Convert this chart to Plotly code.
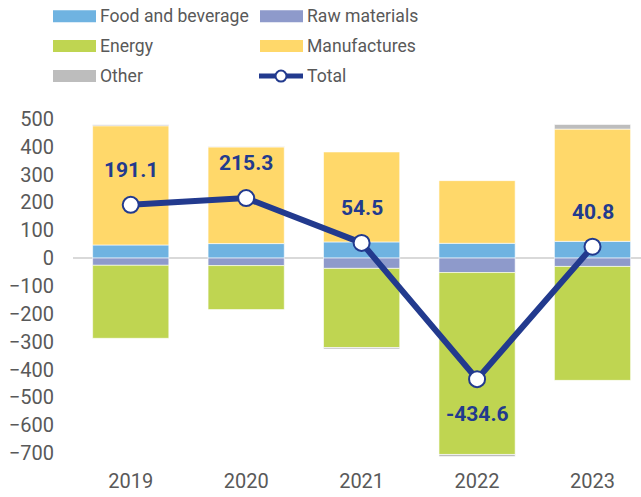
import plotly.graph_objects as go

years = ["2019", "2020", "2021", "2022", "2023"]
food = [47, 52, 58, 53, 60]
raw = [-26, -27, -37, -52, -30]
energy = [-262, -158, -284, -653, -409]
manuf = [428, 347, 323, 225, 403]
other = [4, 1.3, -5.5, -7.6, 16.8]
total = [191.1, 215.3, 54.5, -434.6, 40.8]

names = ["Food and beverage", "Raw materials", "Energy", "Manufactures", "Other"]
colors = ["#6FB3E1", "#8E9ACB", "#BFD551", "#FFD86A", "#BDBDBD"]
series = [food, raw, energy, manuf, other]
NAVY = "#223A8E"
GREY = "#595959"
FONT = "Roboto"

W, H = 641, 497
L, R, T = 73, 0, 116
PH = 351.5
B = H - T - PH
PW = W - L - R

fig = go.Figure()
for n, c, s in zip(names, colors, series):
    fig.add_trace(go.Bar(x=years, y=s, name=n, marker_color=c,
                         marker_line_color="rgba(255,255,255,0.6)", marker_line_width=1,
                         showlegend=False))
fig.add_trace(go.Scatter(x=years, y=total, mode="lines+markers", name="Total",
                         line=dict(color=NAVY, width=6),
                         marker=dict(size=16, color="white", line=dict(color=NAVY, width=2)),
                         showlegend=False))

for i, tv in enumerate(total):
    fig.add_annotation(x=i, y=tv, xref="x", yref="y", text=f"{tv}", showarrow=False,
                       yshift=35 if tv >= 0 else -35,
                       font=dict(family=FONT, size=21, color=NAVY, weight="bold"))

# custom legend
def px2x(px):
    return (px - L) / PW

def py2y(py):
    return (T + PH - py) / PH

leg = [("Food and beverage", colors[0], 53, 16), ("Raw materials", colors[1], 260, 16),
       ("Energy", colors[2], 53, 46), ("Manufactures", colors[3], 260, 46),
       ("Other", colors[4], 53, 76)]
for n, c, x0, yc in leg:
    fig.add_shape(type="rect", xref="paper", yref="paper",
                  x0=px2x(x0), x1=px2x(x0 + 43), y0=py2y(yc - 6), y1=py2y(yc + 6),
                  fillcolor=c, line_width=0)
    fig.add_annotation(xref="paper", yref="paper", x=px2x(x0 + 45), y=py2y(yc),
                       text=n, showarrow=False, xanchor="left", yanchor="middle",
                       font=dict(family=FONT, size=17.6, color=GREY))
fig.add_shape(type="line", xref="paper", yref="paper", x0=px2x(259), x1=px2x(303),
              y0=py2y(76), y1=py2y(76), line=dict(color=NAVY, width=5))
fig.add_shape(type="circle", xref="paper", yref="paper", x0=px2x(275.5), x1=px2x(286.5),
              y0=py2y(81.5), y1=py2y(70.5), fillcolor="white", line=dict(color=NAVY, width=2))
fig.add_annotation(xref="paper", yref="paper", x=px2x(305), y=py2y(76),
                   text="Total", showarrow=False, xanchor="left", yanchor="middle",
                   font=dict(family=FONT, size=17.6, color=GREY))

fig.update_layout(
    width=W, height=H, barmode="relative", bargap=0.34,
    margin=dict(l=L, r=R, t=T, b=B),
    plot_bgcolor="white", paper_bgcolor="white",
    font=dict(family=FONT, size=20, color=GREY),
    xaxis=dict(type="category", range=[-0.5, 4.42], showgrid=False, showline=False, ticks="",
               tickfont=dict(family=FONT, size=20, color=GREY)),
    yaxis=dict(range=[-750, 510], tickvals=list(range(-700, 501, 100)), showgrid=False,
               zeroline=True, zerolinecolor="#D9D9D9", zerolinewidth=2, showline=False,
               ticks="", ticklabelstandoff=18,
               tickfont=dict(family=FONT, size=20, color=GREY)),
)
fig.write_html("out.html", config={"displayModeBar": False},
               post_script="document.body.style.margin='0px';")
